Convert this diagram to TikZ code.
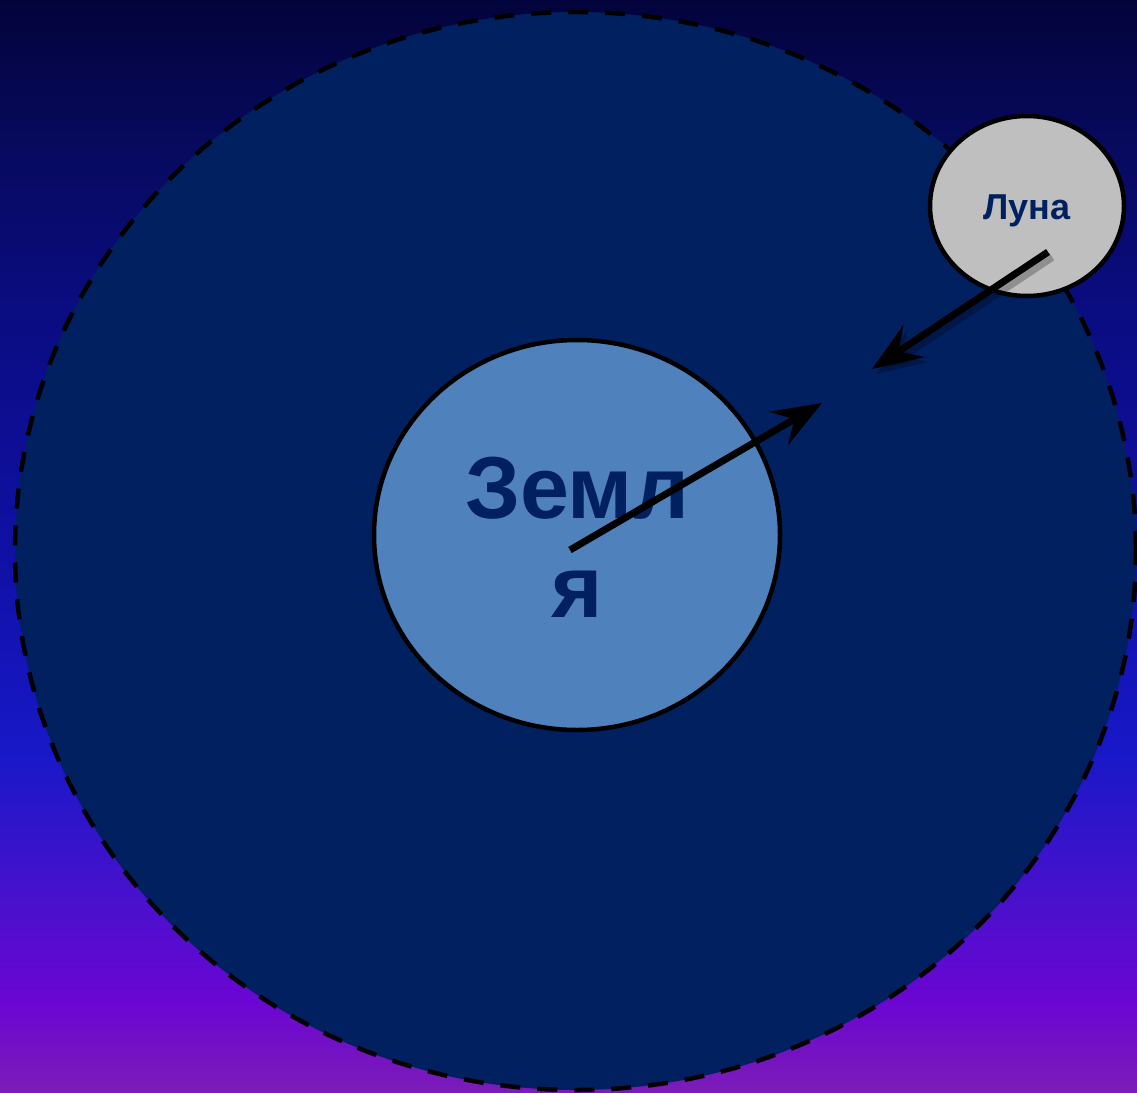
\documentclass[tikz,border=0pt]{standalone}
\usepackage{fontspec}
\setmainfont{Liberation Sans}
\usetikzlibrary{shapes.geometric,arrows.meta}
\definecolor{orbitfill}{HTML}{00205F}
\definecolor{earthfill}{HTML}{4F81BD}
\definecolor{moonfill}{HTML}{BFBFBF}
\definecolor{textnavy}{HTML}{002060}
\definecolor{c0}{HTML}{7C1CB8}
\definecolor{c1}{HTML}{6A06D2}
\definecolor{c2}{HTML}{4A10CC}
\definecolor{c3}{HTML}{1818C8}
\definecolor{c4}{HTML}{1010A5}
\definecolor{c5}{HTML}{0A0C80}
\definecolor{c6}{HTML}{070A5E}
\definecolor{c7}{HTML}{03033C}
\pgfdeclareverticalshading{bgshade}{100bp}{%
  color(0bp)=(c0);color(25bp)=(c0);color(29.2bp)=(c1);color(33.8bp)=(c2);color(40.65bp)=(c3);%
  color(49.8bp)=(c4);color(61bp)=(c5);color(68.15bp)=(c6);color(75bp)=(c7);color(100bp)=(c7)}
\tikzset{
  orbitstyle/.style={ellipse,draw=black,fill=orbitfill,line width=4.5pt,
    dash pattern=on 20pt off 17pt,inner sep=0pt},
  bodystyle/.style={ellipse,draw=black,line width=4.5pt,inner sep=0pt},
  bigtext/.style={text=textnavy,font=\bfseries\fontsize{88}{99}\selectfont,inner sep=0pt,anchor=base},
  moontext/.style={text=textnavy,font=\bfseries\fontsize{36}{40}\selectfont,inner sep=0pt,anchor=base},
  vec/.style={line width=7pt,-{Stealth[length=50pt,width=38pt,inset=18pt]}},
  vecshadow/.style={line width=8pt,draw=black,opacity=0.25,-{Stealth[length=50pt,width=38pt,inset=18pt]}}
}
\begin{document}
\begin{tikzpicture}[x=1pt,y=-1pt]
\useasboundingbox (0,0) rectangle (1137,1092);
\shade[shading=bgshade] (0,0) rectangle (1137,1092);
\node[orbitstyle,minimum width=1121pt,minimum height=1078pt] (orbit) at (575.5,551) {};
\node[bodystyle,fill=earthfill,minimum width=406pt,minimum height=390pt] (earth) at (577,535) {};
\node[bigtext] (earthA) at (577,518) {Земл};
\node[bigtext] (earthB) at (577,617) {я};
\node[bodystyle,fill=moonfill,minimum width=194pt,minimum height=180pt] (moon) at (1027,206) {};
\node[moontext] (moonlabel) at (1027,219) {Луна};
\coordinate (e1) at (570,550);
\coordinate (e2) at (822,403);
\coordinate (m1) at (1048,252);
\coordinate (m2) at (872,369);
\coordinate (m1s) at (1052,257);
\coordinate (m2s) at (876,374);
\draw[vec] (e1) -- (e2);
\draw[vecshadow] (m1s) -- (m2s);
\draw[vec] (m1) -- (m2);
\end{tikzpicture}
\end{document}
